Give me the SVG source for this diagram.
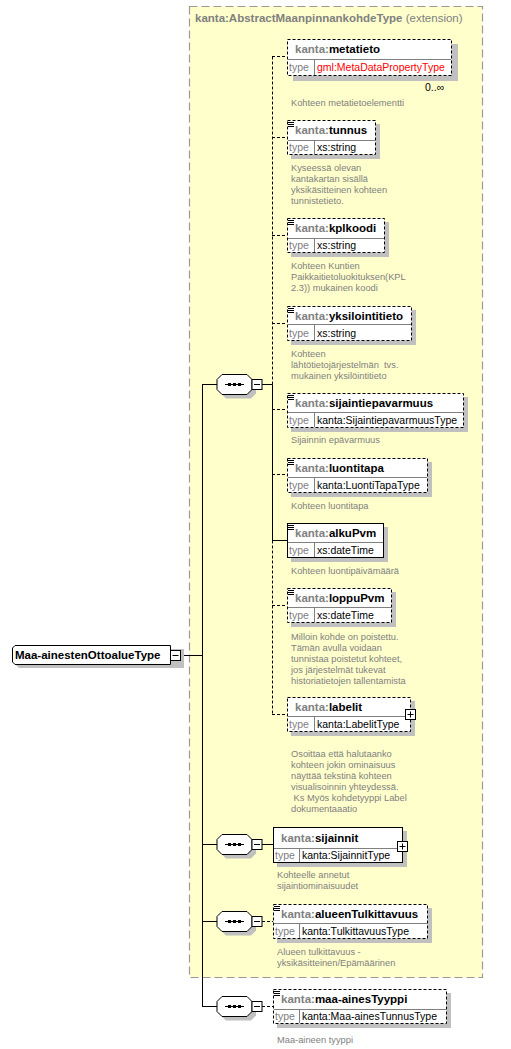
<svg xmlns="http://www.w3.org/2000/svg" width="511" height="1049" viewBox="0 0 511 1049">
<style>
text{font-family:"Liberation Sans",Arial,sans-serif}
.ext{fill:#FFFFCC;stroke:#999999;stroke-width:1.2;stroke-dasharray:8,4}
.ttl{font-size:11.5px;fill:#808080}
.shadow{fill:#C0C0C0}
.box{fill:#FFFFFF;stroke:#000000;stroke-width:1}
.opt{stroke-dasharray:3,2}
.sep{stroke:#808080;stroke-width:1}
.hdr{font-size:11.5px;font-weight:bold;fill:#000000}
.ns{fill:#808080}
.tl{font-size:10.5px;fill:#808080}
.tv{font-size:10.5px;fill:#000000}
.red{fill:#FF0000}
.desc{font-size:9.3px;fill:#808080}
.ln{stroke:#000000;stroke-width:1;fill:none}
.dl{stroke:#000000;stroke-width:1;fill:none;stroke-dasharray:3,2}
.ic{stroke:#000000;stroke-width:1}
.comp{fill:#FFFFFF;stroke:#000000;stroke-width:1}
</style>
<defs>
<g id="seq">
<polygon class="shadow" points="226,-6 251,-6 256,-1 256,9 251,14 226,14 221,9 221,-1"/>
<polygon class="comp" points="222,-10 247,-10 252,-5 252,5 247,10 222,10 217,5 217,-5"/>
<line class="ln" x1="225" y1="0" x2="244" y2="0"/>
<rect x="228" y="-1.5" width="3" height="3" fill="#000"/>
<rect x="233" y="-1.5" width="3" height="3" fill="#000"/>
<rect x="238" y="-1.5" width="3" height="3" fill="#000"/>
<rect class="box" x="252" y="-5" width="10" height="10"/>
<line class="ln" x1="254" y1="0" x2="260" y2="0"/>
</g>
<g id="icon">
<line class="ic" x1="0" y1="2.5" x2="6" y2="2.5"/>
<line class="ic" x1="0" y1="4.5" x2="6" y2="4.5"/>
<line class="ic" x1="0" y1="6.5" x2="6" y2="6.5"/>
</g>
</defs>
<rect width="511" height="1049" fill="#FFFFFF"/>

<g id="extension">
<rect class="ext" x="189.5" y="6.5" width="293" height="971"/>
<text class="ttl" x="195" y="22"><tspan font-weight="bold">kanta:AbstractMaanpinnankohdeType</tspan> (extension)</text>
</g>

<g id="connectors">
<line class="ln" x1="180" y1="655.5" x2="202.5" y2="655.5"/>
<line class="ln" x1="202.5" y1="384.5" x2="202.5" y2="1006.5"/>
<line class="ln" x1="202" y1="384.5" x2="217" y2="384.5"/>
<line class="ln" x1="202" y1="844.5" x2="217" y2="844.5"/>
<line class="ln" x1="202" y1="921.5" x2="217" y2="921.5"/>
<line class="ln" x1="202" y1="1006.5" x2="217" y2="1006.5"/>
<line class="ln" x1="262" y1="384.5" x2="272.5" y2="384.5"/>
<line class="dl" x1="272.5" y1="56.5" x2="272.5" y2="384.5"/>
<line class="ln" x1="272.5" y1="384.5" x2="272.5" y2="540.5"/>
<line class="dl" x1="272.5" y1="540.5" x2="272.5" y2="714.5"/>
<line class="dl" x1="272" y1="56.5" x2="287" y2="56.5"/>
<line class="dl" x1="272" y1="137.5" x2="287" y2="137.5"/>
<line class="dl" x1="272" y1="235.5" x2="287" y2="235.5"/>
<line class="dl" x1="272" y1="323.5" x2="287" y2="323.5"/>
<line class="dl" x1="272" y1="409.5" x2="287" y2="409.5"/>
<line class="dl" x1="272" y1="474.5" x2="287" y2="474.5"/>
<line class="ln" x1="272" y1="540.5" x2="287" y2="540.5"/>
<line class="dl" x1="272" y1="605.5" x2="287" y2="605.5"/>
<line class="dl" x1="272" y1="714.5" x2="287" y2="714.5"/>
<line class="ln" x1="262" y1="844.5" x2="273" y2="844.5"/>
<line class="dl" x1="262" y1="921.5" x2="273" y2="921.5"/>
<line class="dl" x1="262" y1="1006.5" x2="273" y2="1006.5"/>
</g>

<g id="root">
<polygon class="shadow" points="19,649 184,649 184,668 19,668 16,665 16,652"/>
<polygon class="box" points="15,645.5 170.5,645.5 170.5,664.5 15,664.5 12.5,662 12.5,648"/>
<text class="hdr" x="15" y="659">Maa-ainestenOttoalueType</text>
<rect class="box" x="170.5" y="650.5" width="10" height="10"/>
<line class="ln" x1="172.5" y1="655.5" x2="178.5" y2="655.5"/>
</g>

<g id="seq1"><use href="#seq" transform="translate(0,384.5)"/></g>
<g id="seq2"><use href="#seq" transform="translate(0,844.5)"/></g>
<g id="seq3"><use href="#seq" transform="translate(0,921.5)"/></g>
<g id="seq4"><use href="#seq" transform="translate(0,1006.5)"/></g>

<g id="metatieto">
<rect class="shadow" x="293" y="44" width="165" height="37"/>
<rect class="box opt" x="287.5" y="39.5" width="164" height="36"/>
<line class="sep" x1="288" y1="59.5" x2="451" y2="59.5"/>
<line class="sep" x1="314.5" y1="60" x2="314.5" y2="75"/>
<text class="hdr" x="295" y="53"><tspan class="ns">kanta:</tspan>metatieto</text>
<text class="tl" x="289" y="71">type</text>
<text class="tv red" x="317" y="71">gml:MetaDataPropertyType</text>
<text class="tv" x="425" y="91">0..∞</text>
<text class="desc" x="291" y="106">Kohteen metatietoelementti</text>
</g>

<g id="tunnus">
<rect class="shadow" x="291" y="124" width="89" height="35"/>
<rect class="box opt" x="287.5" y="120.5" width="88" height="34"/>
<line class="sep" x1="288" y1="140.5" x2="375" y2="140.5"/>
<line class="sep" x1="314.5" y1="141" x2="314.5" y2="154"/>
<use href="#icon" x="288" y="120"/>
<text class="hdr" x="295" y="134"><tspan class="ns">kanta:</tspan>tunnus</text>
<text class="tl" x="289" y="151">type</text>
<text class="tv" x="317" y="151">xs:string</text>
<text class="desc" x="291" y="171">Kyseessä olevan</text>
<text class="desc" x="291" y="182">kantakartan sisällä</text>
<text class="desc" x="291" y="193">yksikäsitteinen kohteen</text>
<text class="desc" x="291" y="204">tunnistetieto.</text>
</g>

<g id="kplkoodi">
<rect class="shadow" x="291" y="222" width="98" height="35"/>
<rect class="box opt" x="287.5" y="218.5" width="97" height="34"/>
<line class="sep" x1="288" y1="238.5" x2="384" y2="238.5"/>
<line class="sep" x1="314.5" y1="239" x2="314.5" y2="252"/>
<use href="#icon" x="288" y="218"/>
<text class="hdr" x="295" y="232"><tspan class="ns">kanta:</tspan>kplkoodi</text>
<text class="tl" x="289" y="249">type</text>
<text class="tv" x="317" y="249">xs:string</text>
<text class="desc" x="291" y="269">Kohteen Kuntien</text>
<text class="desc" x="291" y="280">Paikkaitietoluokituksen(KPL</text>
<text class="desc" x="291" y="291">2.3)) mukainen koodi</text>
</g>

<g id="yksilointitieto">
<rect class="shadow" x="291" y="310" width="125" height="35"/>
<rect class="box opt" x="287.5" y="306.5" width="124" height="34"/>
<line class="sep" x1="288" y1="324.5" x2="411" y2="324.5"/>
<line class="sep" x1="314.5" y1="325" x2="314.5" y2="340"/>
<use href="#icon" x="288" y="306"/>
<text class="hdr" x="295" y="320"><tspan class="ns">kanta:</tspan>yksilointitieto</text>
<text class="tl" x="289" y="337">type</text>
<text class="tv" x="317" y="337">xs:string</text>
<text class="desc" x="291" y="357">Kohteen</text>
<text class="desc" x="291" y="368" xml:space="preserve">lähtötietojärjestelmän  tvs.</text>
<text class="desc" x="291" y="379">mukainen yksilöintitieto</text>
</g>

<g id="sijaintiepavarmuus">
<rect class="shadow" x="291" y="397" width="177" height="35"/>
<rect class="box opt" x="287.5" y="393.5" width="176" height="34"/>
<line class="sep" x1="288" y1="412.5" x2="463" y2="412.5"/>
<line class="sep" x1="314.5" y1="413" x2="314.5" y2="427"/>
<use href="#icon" x="288" y="393"/>
<text class="hdr" x="295" y="407"><tspan class="ns">kanta:</tspan>sijaintiepavarmuus</text>
<text class="tl" x="289" y="424">type</text>
<text class="tv" x="317" y="424">kanta:SijaintiepavarmuusType</text>
<text class="desc" x="291" y="443">Sijainnin epävarmuus</text>
</g>

<g id="luontitapa">
<rect class="shadow" x="291" y="462" width="141" height="35"/>
<rect class="box opt" x="287.5" y="458.5" width="140" height="34"/>
<line class="sep" x1="288" y1="477.5" x2="427" y2="477.5"/>
<line class="sep" x1="314.5" y1="478" x2="314.5" y2="492"/>
<use href="#icon" x="288" y="458"/>
<text class="hdr" x="295" y="472"><tspan class="ns">kanta:</tspan>luontitapa</text>
<text class="tl" x="289" y="489">type</text>
<text class="tv" x="317" y="489">kanta:LuontiTapaType</text>
<text class="desc" x="291" y="509">Kohteen luontitapa</text>
</g>

<g id="alkuPvm">
<rect class="shadow" x="291" y="527" width="97" height="35"/>
<rect class="box" x="287.5" y="523.5" width="96" height="34"/>
<line class="sep" x1="288" y1="542.5" x2="383" y2="542.5"/>
<line class="sep" x1="314.5" y1="543" x2="314.5" y2="557"/>
<use href="#icon" x="288" y="523"/>
<text class="hdr" x="295" y="537"><tspan class="ns">kanta:</tspan>alkuPvm</text>
<text class="tl" x="289" y="554">type</text>
<text class="tv" x="317" y="554">xs:dateTime</text>
<text class="desc" x="291" y="574">Kohteen luontipäivämäärä</text>
</g>

<g id="loppuPvm">
<rect class="shadow" x="291" y="592" width="105" height="35"/>
<rect class="box opt" x="287.5" y="588.5" width="104" height="34"/>
<line class="sep" x1="288" y1="607.5" x2="391" y2="607.5"/>
<line class="sep" x1="314.5" y1="608" x2="314.5" y2="622"/>
<use href="#icon" x="288" y="588"/>
<text class="hdr" x="295" y="602"><tspan class="ns">kanta:</tspan>loppuPvm</text>
<text class="tl" x="289" y="619">type</text>
<text class="tv" x="317" y="619">xs:dateTime</text>
<text class="desc" x="291" y="640">Milloin kohde on poistettu.</text>
<text class="desc" x="291" y="651">Tämän avulla voidaan</text>
<text class="desc" x="291" y="662">tunnistaa poistetut kohteet,</text>
<text class="desc" x="291" y="673">jos järjestelmät tukevat</text>
<text class="desc" x="291" y="684">historiatietojen tallentamista</text>
</g>

<g id="labelit">
<rect class="shadow" x="291" y="701" width="124" height="35"/>
<rect class="box opt" x="287.5" y="697.5" width="123" height="34"/>
<line class="sep" x1="288" y1="716.5" x2="410" y2="716.5"/>
<line class="sep" x1="314.5" y1="717" x2="314.5" y2="731"/>
<text class="hdr" x="295" y="711"><tspan class="ns">kanta:</tspan>labelit</text>
<text class="tl" x="289" y="728">type</text>
<text class="tv" x="317" y="728">kanta:LabelitType</text>
<rect class="box" x="405.5" y="709.5" width="10" height="10"/>
<line class="ln" x1="407.5" y1="714.5" x2="413.5" y2="714.5"/>
<line class="ln" x1="410.5" y1="711.5" x2="410.5" y2="717.5"/>
<text class="desc" x="291" y="757">Osoittaa että halutaanko</text>
<text class="desc" x="291" y="768">kohteen jokin ominaisuus</text>
<text class="desc" x="291" y="779">näyttää tekstinä kohteen</text>
<text class="desc" x="291" y="790">visualisoinnin yhteydessä.</text>
<text class="desc" x="291" y="801" xml:space="preserve"> Ks Myös kohdetyyppi Label</text>
<text class="desc" x="291" y="812">dokumentaaatio</text>
</g>

<g id="sijainnit">
<rect class="shadow" x="277" y="831" width="130" height="36"/>
<rect class="box" x="273.5" y="827.5" width="129" height="35"/>
<line class="sep" x1="274" y1="848.5" x2="402" y2="848.5"/>
<line class="sep" x1="299.5" y1="849" x2="299.5" y2="862"/>
<text class="hdr" x="281" y="842"><tspan class="ns">kanta:</tspan>sijainnit</text>
<text class="tl" x="275" y="859">type</text>
<text class="tv" x="302" y="859">kanta:SijainnitType</text>
<rect class="box" x="397.5" y="841.5" width="10" height="10"/>
<line class="ln" x1="399.5" y1="846.5" x2="405.5" y2="846.5"/>
<line class="ln" x1="402.5" y1="843.5" x2="402.5" y2="849.5"/>
<text class="desc" x="277" y="878">Kohteelle annetut</text>
<text class="desc" x="277" y="889">sijaintiominaisuudet</text>
</g>

<g id="alueenTulkittavuus">
<rect class="shadow" x="277" y="908" width="155" height="35"/>
<rect class="box opt" x="273.5" y="904.5" width="154" height="34"/>
<line class="sep" x1="274" y1="923.5" x2="427" y2="923.5"/>
<line class="sep" x1="299.5" y1="924" x2="299.5" y2="938"/>
<use href="#icon" x="274" y="904"/>
<text class="hdr" x="281" y="918"><tspan class="ns">kanta:</tspan>alueenTulkittavuus</text>
<text class="tl" x="275" y="935">type</text>
<text class="tv" x="302" y="935">kanta:TulkittavuusType</text>
<text class="desc" x="277" y="955">Alueen tulkittavuus -</text>
<text class="desc" x="277" y="966">yksikäsitteinen/Epämäärinen</text>
</g>

<g id="maa-ainesTyyppi">
<rect class="shadow" x="277" y="993" width="174" height="35"/>
<rect class="box opt" x="273.5" y="989.5" width="173" height="34"/>
<line class="sep" x1="274" y1="1009.5" x2="446" y2="1009.5"/>
<line class="sep" x1="299.5" y1="1010" x2="299.5" y2="1023"/>
<use href="#icon" x="274" y="989"/>
<text class="hdr" x="281" y="1003"><tspan class="ns">kanta:</tspan>maa-ainesTyyppi</text>
<text class="tl" x="275" y="1020">type</text>
<text class="tv" x="302" y="1020">kanta:Maa-ainesTunnusType</text>
<text class="desc" x="277" y="1043">Maa-aineen tyyppi</text>
</g>
</svg>
